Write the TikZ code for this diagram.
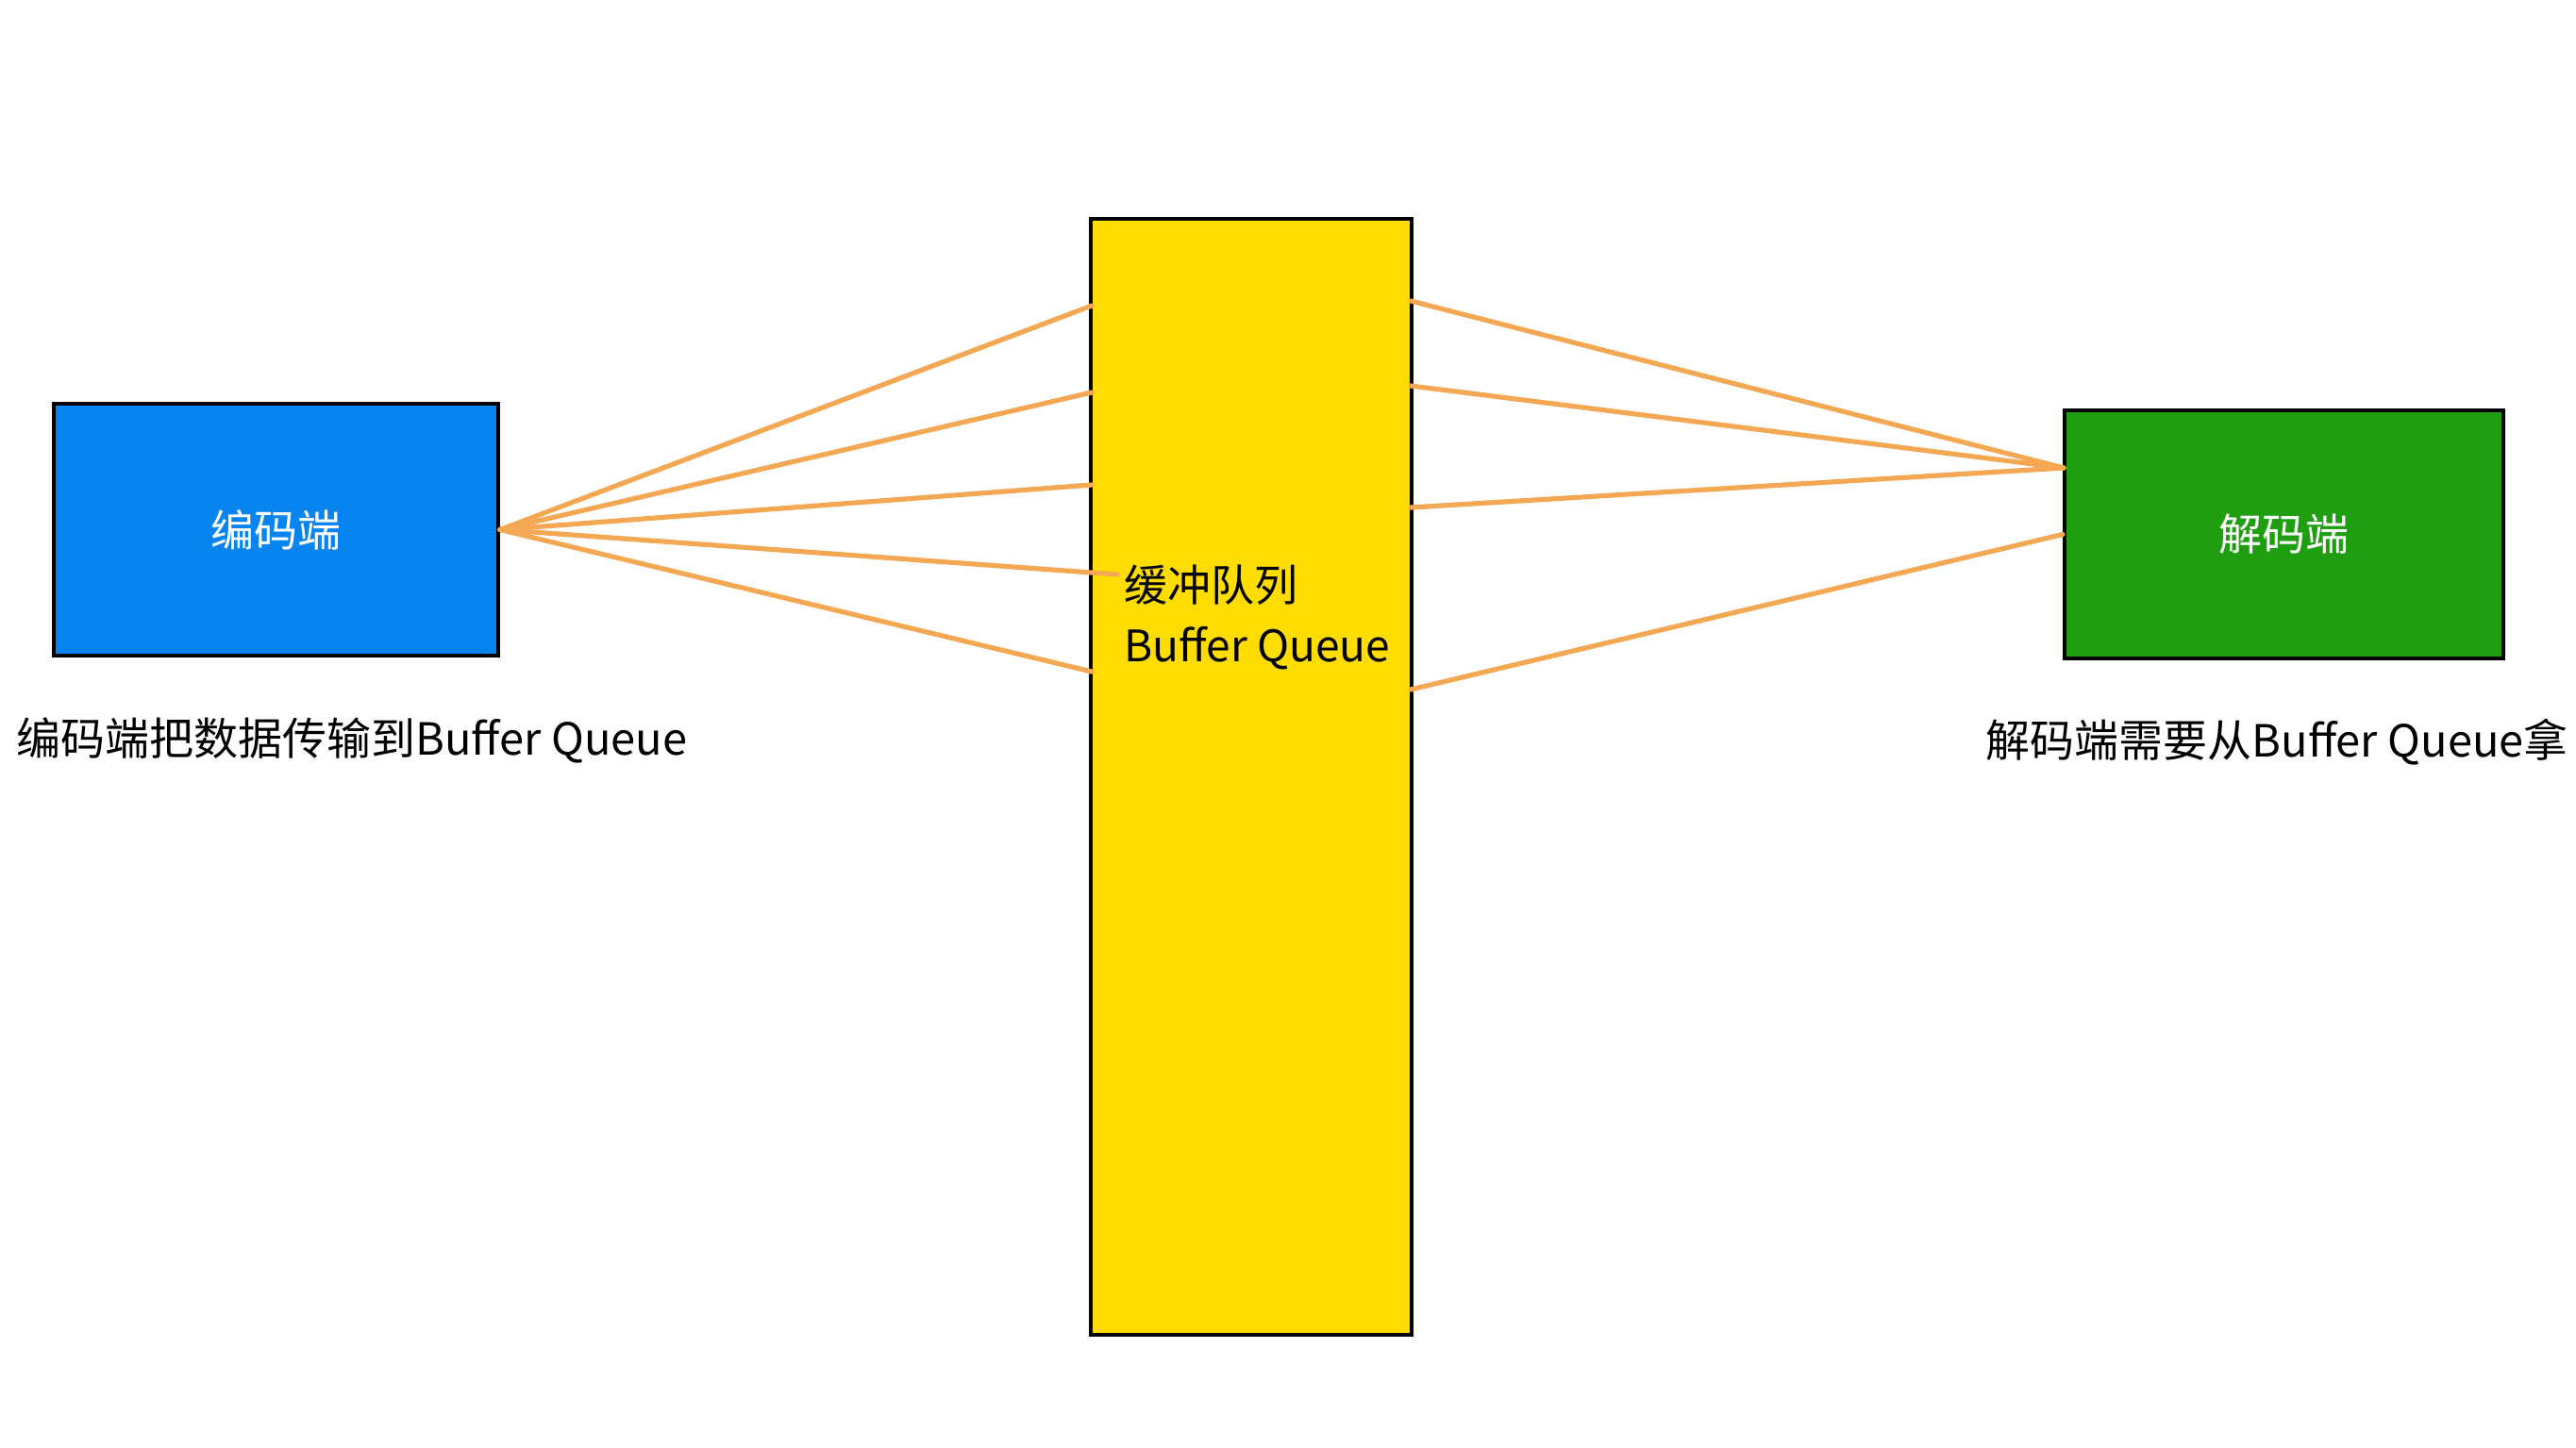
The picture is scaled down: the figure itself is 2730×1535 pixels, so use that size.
\documentclass[tikz,border=0pt]{standalone}
\usepackage{fontspec}
\setmainfont{Noto Sans CJK SC}
\definecolor{encblue}{RGB}{8,132,240}
\definecolor{decgreen}{RGB}{30,158,16}
\definecolor{qyellow}{RGB}{255,221,0}
\definecolor{fanorange}{RGB}{245,168,84}
\begin{document}
\begin{tikzpicture}[x=0.5pt,y=-0.5pt,
  boxstyle/.style={draw=black,line width=2pt,inner sep=0pt,font=\fontsize{23}{28}\selectfont},
  fan/.style={draw=fanorange,line width=2.6pt,line cap=round},
  lbl/.style={font=\fontsize{23.5}{28}\selectfont,inner sep=0pt}]
\useasboundingbox (0,0) rectangle (2730,1535);
% boxes
\node[boxstyle,fill=encblue,text=white,minimum width=235.5pt,minimum height=133.5pt] (enc) at (292.5,561.5) {编码端};
\node[boxstyle,fill=qyellow,minimum width=170pt,minimum height=591.5pt] (queue) at (1326,823.5) {};
\node[boxstyle,fill=decgreen,text=white,minimum width=232.5pt,minimum height=131.5pt] (dec) at (2420.5,566.5) {解码端};
% queue label
\node[anchor=west,inner sep=0pt,align=left,font=\fontsize{23}{32}\selectfont] (qlabel) at (1191,654) {缓冲队列\\Buffer Queue};
% anchor points on the queue
\coordinate (l1) at (1157,324);
\coordinate (l2) at (1157,416);
\coordinate (l3) at (1157,514);
\coordinate (l4) at (1184,609);
\coordinate (l5) at (1157,712);
\coordinate (r1) at (1495,319);
\coordinate (r2) at (1495,409);
\coordinate (r3) at (1495,538);
\coordinate (r4) at (1495,731);
\coordinate (dtop) at (2187,496);
% fan connectors
\foreach \p in {l1,l2,l3,l4,l5} \draw[fan] (enc.east) -- (\p);
\foreach \p in {r1,r2,r3} \draw[fan] (\p) -- (dtop);
\draw[fan] (r4) -- (dec.west);
% captions
\node[lbl,anchor=west] (enccap) at (17,785) {编码端把数据传输到Buffer Queue};
\node[lbl,anchor=east] (deccap) at (2722,787) {解码端需要从Buffer Queue拿};
\end{tikzpicture}
\end{document}
